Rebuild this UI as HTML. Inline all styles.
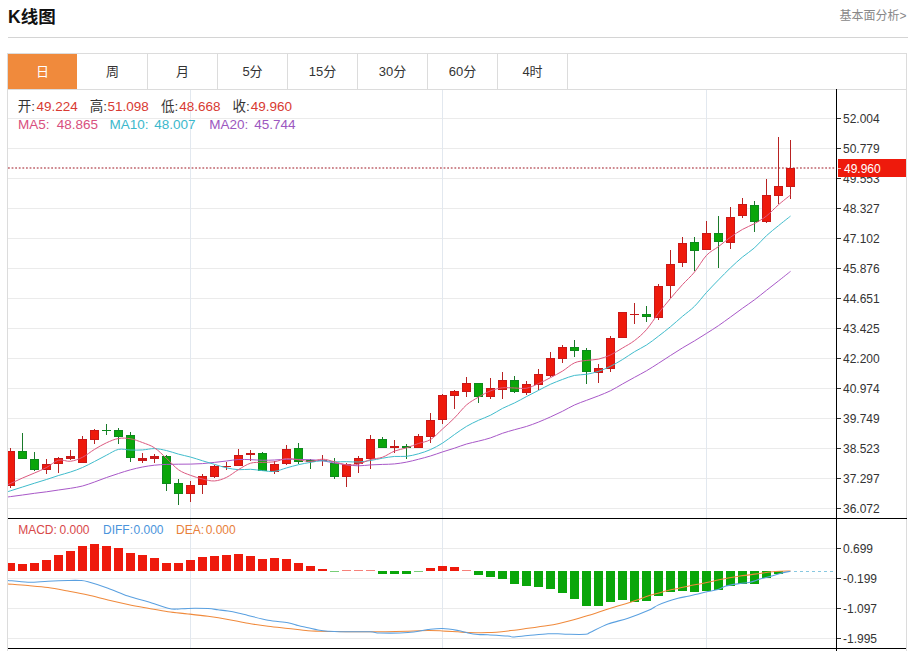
<!DOCTYPE html>
<html><head><meta charset="utf-8"><title>K线图</title><style>
html,body{margin:0;padding:0;background:#fff;}
body{width:911px;height:651px;position:relative;overflow:hidden;}
svg{position:absolute;left:0;top:0;font-family:"Liberation Sans","Noto Sans CJK SC",sans-serif;}
</style></head><body>
<svg width="911" height="651" viewBox="0 0 911 651" shape-rendering="crispEdges">
<defs><clipPath id="cl"><rect x="8" y="90" width="828" height="428"/></clipPath></defs><g><rect x="8" y="37" width="900" height="1" fill="#d4d4d4"/><rect x="7" y="53" width="900" height="1" fill="#dcdcdc"/><rect x="7" y="53" width="1" height="598" fill="#dcdcdc"/><rect x="906" y="53" width="1" height="598" fill="#dcdcdc"/><rect x="8" y="54" width="69" height="35" fill="#f08a3c"/><rect x="147" y="54" width="1" height="35" fill="#dcdcdc"/><rect x="217" y="54" width="1" height="35" fill="#dcdcdc"/><rect x="287" y="54" width="1" height="35" fill="#dcdcdc"/><rect x="357" y="54" width="1" height="35" fill="#dcdcdc"/><rect x="427" y="54" width="1" height="35" fill="#dcdcdc"/><rect x="497" y="54" width="1" height="35" fill="#dcdcdc"/><rect x="567" y="54" width="1" height="35" fill="#dcdcdc"/><rect x="8" y="89" width="898" height="1" fill="#dcdcdc"/><rect x="8" y="118" width="828" height="1" fill="#ebebeb"/><rect x="8" y="148" width="828" height="1" fill="#ebebeb"/><rect x="8" y="178" width="828" height="1" fill="#ebebeb"/><rect x="8" y="208" width="828" height="1" fill="#ebebeb"/><rect x="8" y="238" width="828" height="1" fill="#ebebeb"/><rect x="8" y="268" width="828" height="1" fill="#ebebeb"/><rect x="8" y="298" width="828" height="1" fill="#ebebeb"/><rect x="8" y="328" width="828" height="1" fill="#ebebeb"/><rect x="8" y="358" width="828" height="1" fill="#ebebeb"/><rect x="8" y="388" width="828" height="1" fill="#ebebeb"/><rect x="8" y="418" width="828" height="1" fill="#ebebeb"/><rect x="8" y="448" width="828" height="1" fill="#ebebeb"/><rect x="8" y="478" width="828" height="1" fill="#ebebeb"/><rect x="8" y="508" width="828" height="1" fill="#ebebeb"/><rect x="8" y="548" width="828" height="1" fill="#ebebeb"/><rect x="8" y="578" width="828" height="1" fill="#ebebeb"/><rect x="8" y="608" width="828" height="1" fill="#ebebeb"/><rect x="8" y="638" width="828" height="1" fill="#ebebeb"/><rect x="190" y="90" width="1" height="558" fill="#e2e8ef"/><rect x="442" y="90" width="1" height="558" fill="#e2e8ef"/><rect x="706" y="90" width="1" height="558" fill="#e2e8ef"/><line x1="8" y1="168" x2="836" y2="168" stroke="#c0666e" stroke-width="1.7" stroke-dasharray="1.8 1.8" shape-rendering="auto"/><rect x="10" y="448.4" width="1" height="39.4" fill="#b82222"/><rect x="8" y="451.0" width="7" height="35.0" fill="#c81818"/><rect x="8" y="452.0" width="6" height="33.0" fill="#ee1a0c"/><rect x="22" y="433.1" width="1" height="25.6" fill="#1a7a2a"/><rect x="18" y="451.1" width="9" height="7.6" fill="#0c8a1c"/><rect x="19" y="452.1" width="7" height="5.6" fill="#0aa60a"/><rect x="34" y="452.1" width="1" height="19.1" fill="#1a7a2a"/><rect x="30" y="459.1" width="9" height="10.4" fill="#0c8a1c"/><rect x="31" y="460.1" width="7" height="8.4" fill="#0aa60a"/><rect x="46" y="459.4" width="1" height="14.3" fill="#b82222"/><rect x="42" y="464.0" width="9" height="5.8" fill="#c81818"/><rect x="43" y="465.0" width="7" height="3.8" fill="#ee1a0c"/><rect x="58" y="457.0" width="1" height="15.8" fill="#b82222"/><rect x="54" y="458.0" width="9" height="6.0" fill="#c81818"/><rect x="55" y="459.0" width="7" height="4.0" fill="#ee1a0c"/><rect x="70" y="450.2" width="1" height="10.2" fill="#b82222"/><rect x="66" y="456.2" width="9" height="2.8" fill="#c81818"/><rect x="82" y="435.9" width="1" height="26.7" fill="#b82222"/><rect x="78" y="438.7" width="9" height="23.9" fill="#c81818"/><rect x="79" y="439.7" width="7" height="21.9" fill="#ee1a0c"/><rect x="94" y="429.4" width="1" height="14.1" fill="#b82222"/><rect x="90" y="430.0" width="9" height="9.7" fill="#c81818"/><rect x="91" y="431.0" width="7" height="7.7" fill="#ee1a0c"/><rect x="106" y="424.0" width="1" height="11.4" fill="#1a7a2a"/><rect x="102" y="429.6" width="9" height="1.4" fill="#0c8a1c"/><rect x="118" y="428.4" width="1" height="15.5" fill="#1a7a2a"/><rect x="114" y="429.9" width="9" height="6.7" fill="#0c8a1c"/><rect x="115" y="430.9" width="7" height="4.7" fill="#0aa60a"/><rect x="130" y="432.2" width="1" height="29.8" fill="#1a7a2a"/><rect x="126" y="435.4" width="9" height="22.2" fill="#0c8a1c"/><rect x="127" y="436.4" width="7" height="20.2" fill="#0aa60a"/><rect x="142" y="453.2" width="1" height="9.9" fill="#b82222"/><rect x="138" y="457.6" width="9" height="2.9" fill="#c81818"/><rect x="154" y="453.7" width="1" height="9.4" fill="#b82222"/><rect x="150" y="456.3" width="9" height="2.2" fill="#c81818"/><rect x="166" y="455.1" width="1" height="35.5" fill="#1a7a2a"/><rect x="162" y="456.1" width="9" height="27.5" fill="#0c8a1c"/><rect x="163" y="457.1" width="7" height="25.5" fill="#0aa60a"/><rect x="178" y="478.5" width="1" height="26.2" fill="#1a7a2a"/><rect x="174" y="482.8" width="9" height="11.0" fill="#0c8a1c"/><rect x="175" y="483.8" width="7" height="9.0" fill="#0aa60a"/><rect x="190" y="481.4" width="1" height="20.4" fill="#b82222"/><rect x="186" y="485.3" width="9" height="8.5" fill="#c81818"/><rect x="187" y="486.3" width="7" height="6.5" fill="#ee1a0c"/><rect x="202" y="474.1" width="1" height="19.6" fill="#b82222"/><rect x="198" y="475.9" width="9" height="9.5" fill="#c81818"/><rect x="199" y="476.9" width="7" height="7.5" fill="#ee1a0c"/><rect x="214" y="464.5" width="1" height="13.3" fill="#b82222"/><rect x="210" y="466.1" width="9" height="10.7" fill="#c81818"/><rect x="211" y="467.1" width="7" height="8.7" fill="#ee1a0c"/><rect x="226" y="462.4" width="1" height="8.0" fill="#b82222"/><rect x="222" y="465.7" width="9" height="1.3" fill="#c81818"/><rect x="238" y="448.9" width="1" height="17.2" fill="#b82222"/><rect x="234" y="455.0" width="9" height="10.7" fill="#c81818"/><rect x="235" y="456.0" width="7" height="8.7" fill="#ee1a0c"/><rect x="250" y="449.5" width="1" height="11.7" fill="#b82222"/><rect x="246" y="453.4" width="9" height="1.6" fill="#c81818"/><rect x="262" y="451.7" width="1" height="19.7" fill="#1a7a2a"/><rect x="258" y="452.6" width="9" height="18.8" fill="#0c8a1c"/><rect x="259" y="453.6" width="7" height="16.8" fill="#0aa60a"/><rect x="274" y="461.2" width="1" height="12.5" fill="#b82222"/><rect x="270" y="463.6" width="9" height="8.0" fill="#c81818"/><rect x="271" y="464.6" width="7" height="6.0" fill="#ee1a0c"/><rect x="286" y="445.4" width="1" height="19.6" fill="#b82222"/><rect x="282" y="449.1" width="9" height="14.9" fill="#c81818"/><rect x="283" y="450.1" width="7" height="12.9" fill="#ee1a0c"/><rect x="298" y="443.2" width="1" height="20.4" fill="#1a7a2a"/><rect x="294" y="448.2" width="9" height="13.3" fill="#0c8a1c"/><rect x="295" y="449.2" width="7" height="11.3" fill="#0aa60a"/><rect x="310" y="458.7" width="1" height="10.5" fill="#1a7a2a"/><rect x="306" y="460.2" width="9" height="1.8" fill="#0c8a1c"/><rect x="322" y="454.7" width="1" height="11.0" fill="#b82222"/><rect x="318" y="459.6" width="9" height="1.4" fill="#c81818"/><rect x="334" y="457.9" width="1" height="20.9" fill="#1a7a2a"/><rect x="330" y="463.3" width="9" height="13.5" fill="#0c8a1c"/><rect x="331" y="464.3" width="7" height="11.5" fill="#0aa60a"/><rect x="346" y="462.8" width="1" height="23.8" fill="#b82222"/><rect x="342" y="464.2" width="9" height="13.0" fill="#c81818"/><rect x="343" y="465.2" width="7" height="11.0" fill="#ee1a0c"/><rect x="358" y="456.3" width="1" height="16.6" fill="#b82222"/><rect x="354" y="458.1" width="9" height="5.5" fill="#c81818"/><rect x="355" y="459.1" width="7" height="3.5" fill="#ee1a0c"/><rect x="370" y="435.4" width="1" height="33.1" fill="#b82222"/><rect x="366" y="439.0" width="9" height="19.7" fill="#c81818"/><rect x="367" y="440.0" width="7" height="17.7" fill="#ee1a0c"/><rect x="382" y="437.0" width="1" height="11.0" fill="#1a7a2a"/><rect x="378" y="438.7" width="9" height="9.3" fill="#0c8a1c"/><rect x="379" y="439.7" width="7" height="7.3" fill="#0aa60a"/><rect x="394" y="440.3" width="1" height="12.3" fill="#b82222"/><rect x="390" y="446.2" width="9" height="2.0" fill="#c81818"/><rect x="406" y="444.1" width="1" height="14.6" fill="#1a7a2a"/><rect x="402" y="445.7" width="9" height="2.3" fill="#0c8a1c"/><rect x="418" y="434.1" width="1" height="13.9" fill="#b82222"/><rect x="414" y="436.0" width="9" height="12.0" fill="#c81818"/><rect x="415" y="437.0" width="7" height="10.0" fill="#ee1a0c"/><rect x="430" y="413.4" width="1" height="30.0" fill="#b82222"/><rect x="426" y="419.8" width="9" height="17.1" fill="#c81818"/><rect x="427" y="420.8" width="7" height="15.1" fill="#ee1a0c"/><rect x="442" y="393.9" width="1" height="29.8" fill="#b82222"/><rect x="438" y="395.0" width="9" height="24.5" fill="#c81818"/><rect x="439" y="396.0" width="7" height="22.5" fill="#ee1a0c"/><rect x="454" y="389.6" width="1" height="19.2" fill="#b82222"/><rect x="450" y="390.8" width="9" height="4.9" fill="#c81818"/><rect x="451" y="391.8" width="7" height="2.9" fill="#ee1a0c"/><rect x="466" y="376.5" width="1" height="20.5" fill="#b82222"/><rect x="462" y="383.1" width="9" height="9.2" fill="#c81818"/><rect x="463" y="384.1" width="7" height="7.2" fill="#ee1a0c"/><rect x="478" y="382.7" width="1" height="19.9" fill="#1a7a2a"/><rect x="474" y="383.1" width="9" height="13.9" fill="#0c8a1c"/><rect x="475" y="384.1" width="7" height="11.9" fill="#0aa60a"/><rect x="490" y="377.6" width="1" height="21.2" fill="#b82222"/><rect x="486" y="388.4" width="9" height="8.1" fill="#c81818"/><rect x="487" y="389.4" width="7" height="6.1" fill="#ee1a0c"/><rect x="502" y="371.5" width="1" height="27.6" fill="#b82222"/><rect x="498" y="379.5" width="9" height="10.1" fill="#c81818"/><rect x="499" y="380.5" width="7" height="8.1" fill="#ee1a0c"/><rect x="514" y="376.1" width="1" height="16.9" fill="#1a7a2a"/><rect x="510" y="380.2" width="9" height="11.7" fill="#0c8a1c"/><rect x="511" y="381.2" width="7" height="9.7" fill="#0aa60a"/><rect x="526" y="381.0" width="1" height="13.5" fill="#b82222"/><rect x="522" y="384.1" width="9" height="8.9" fill="#c81818"/><rect x="523" y="385.1" width="7" height="6.9" fill="#ee1a0c"/><rect x="538" y="369.2" width="1" height="21.0" fill="#b82222"/><rect x="534" y="374.2" width="9" height="10.8" fill="#c81818"/><rect x="535" y="375.2" width="7" height="8.8" fill="#ee1a0c"/><rect x="550" y="352.3" width="1" height="24.6" fill="#b82222"/><rect x="546" y="358.4" width="9" height="17.4" fill="#c81818"/><rect x="547" y="359.4" width="7" height="15.4" fill="#ee1a0c"/><rect x="562" y="345.4" width="1" height="17.6" fill="#b82222"/><rect x="558" y="346.9" width="9" height="11.8" fill="#c81818"/><rect x="559" y="347.9" width="7" height="9.8" fill="#ee1a0c"/><rect x="574" y="339.5" width="1" height="17.8" fill="#1a7a2a"/><rect x="570" y="347.2" width="9" height="3.5" fill="#0c8a1c"/><rect x="571" y="348.2" width="7" height="1.5" fill="#0aa60a"/><rect x="586" y="348.1" width="1" height="36.0" fill="#1a7a2a"/><rect x="582" y="350.0" width="9" height="21.8" fill="#0c8a1c"/><rect x="583" y="351.0" width="7" height="19.8" fill="#0aa60a"/><rect x="598" y="363.8" width="1" height="19.0" fill="#b82222"/><rect x="594" y="367.8" width="9" height="5.0" fill="#c81818"/><rect x="595" y="368.8" width="7" height="3.0" fill="#ee1a0c"/><rect x="610" y="335.9" width="1" height="35.9" fill="#b82222"/><rect x="606" y="337.5" width="9" height="31.3" fill="#c81818"/><rect x="607" y="338.5" width="7" height="29.3" fill="#ee1a0c"/><rect x="622" y="311.5" width="1" height="26.4" fill="#b82222"/><rect x="618" y="312.3" width="9" height="25.6" fill="#c81818"/><rect x="619" y="313.3" width="7" height="23.6" fill="#ee1a0c"/><rect x="634" y="302.9" width="1" height="20.6" fill="#b82222"/><rect x="630" y="313.5" width="9" height="1.6" fill="#c81818"/><rect x="646" y="306.3" width="1" height="15.6" fill="#1a7a2a"/><rect x="642" y="313.5" width="9" height="3.4" fill="#0c8a1c"/><rect x="643" y="314.5" width="7" height="1.4" fill="#0aa60a"/><rect x="658" y="284.2" width="1" height="35.7" fill="#b82222"/><rect x="654" y="285.8" width="9" height="32.1" fill="#c81818"/><rect x="655" y="286.8" width="7" height="30.1" fill="#ee1a0c"/><rect x="670" y="249.7" width="1" height="47.9" fill="#b82222"/><rect x="666" y="263.8" width="9" height="22.6" fill="#c81818"/><rect x="667" y="264.8" width="7" height="20.6" fill="#ee1a0c"/><rect x="682" y="236.5" width="1" height="30.3" fill="#b82222"/><rect x="678" y="243.1" width="9" height="20.0" fill="#c81818"/><rect x="679" y="244.1" width="7" height="18.0" fill="#ee1a0c"/><rect x="694" y="237.1" width="1" height="33.4" fill="#1a7a2a"/><rect x="690" y="242.4" width="9" height="8.3" fill="#0c8a1c"/><rect x="691" y="243.4" width="7" height="6.3" fill="#0aa60a"/><rect x="706" y="220.5" width="1" height="29.1" fill="#b82222"/><rect x="702" y="233.2" width="9" height="16.4" fill="#c81818"/><rect x="703" y="234.2" width="7" height="14.4" fill="#ee1a0c"/><rect x="718" y="215.5" width="1" height="52.3" fill="#1a7a2a"/><rect x="714" y="233.2" width="9" height="8.9" fill="#0c8a1c"/><rect x="715" y="234.2" width="7" height="6.9" fill="#0aa60a"/><rect x="730" y="207.4" width="1" height="41.8" fill="#b82222"/><rect x="726" y="216.8" width="9" height="25.7" fill="#c81818"/><rect x="727" y="217.8" width="7" height="23.7" fill="#ee1a0c"/><rect x="742" y="197.5" width="1" height="20.0" fill="#b82222"/><rect x="738" y="204.2" width="9" height="11.3" fill="#c81818"/><rect x="739" y="205.2" width="7" height="9.3" fill="#ee1a0c"/><rect x="754" y="200.7" width="1" height="31.7" fill="#1a7a2a"/><rect x="750" y="204.8" width="9" height="16.8" fill="#0c8a1c"/><rect x="751" y="205.8" width="7" height="14.8" fill="#0aa60a"/><rect x="766" y="178.8" width="1" height="44.0" fill="#b82222"/><rect x="762" y="195.2" width="9" height="26.5" fill="#c81818"/><rect x="763" y="196.2" width="7" height="24.5" fill="#ee1a0c"/><rect x="778" y="137.2" width="1" height="66.4" fill="#b82222"/><rect x="774" y="185.9" width="9" height="9.8" fill="#c81818"/><rect x="775" y="186.9" width="7" height="7.8" fill="#ee1a0c"/><rect x="790" y="139.9" width="1" height="59.5" fill="#b82222"/><rect x="786" y="168.1" width="9" height="18.6" fill="#c81818"/><rect x="787" y="169.1" width="7" height="16.6" fill="#ee1a0c"/><g clip-path="url(#cl)"><path d="M-1.50,498.20 C0.50,497.93 6.50,497.13 10.50,496.60 C14.50,496.07 18.50,495.55 22.50,495.00 C26.50,494.45 30.50,493.83 34.50,493.30 C38.50,492.77 42.50,492.35 46.50,491.80 C50.50,491.25 54.50,490.58 58.50,490.00 C62.50,489.42 66.50,488.97 70.50,488.30 C74.50,487.63 78.50,487.05 82.50,486.00 C86.50,484.95 90.50,483.42 94.50,482.00 C98.50,480.58 102.50,478.92 106.50,477.50 C110.50,476.08 114.50,474.78 118.50,473.50 C122.50,472.22 126.50,470.88 130.50,469.80 C134.50,468.72 138.50,467.77 142.50,467.00 C146.50,466.23 150.50,465.63 154.50,465.20 C158.50,464.77 162.50,464.57 166.50,464.40 C170.50,464.23 174.50,464.25 178.50,464.20 C182.50,464.15 186.50,464.20 190.50,464.10 C194.50,464.00 198.50,463.88 202.50,463.60 C206.50,463.32 210.50,462.83 214.50,462.40 C218.50,461.97 222.50,461.48 226.50,461.00 C230.50,460.52 234.50,459.76 238.50,459.53 C242.50,459.31 246.50,459.52 250.50,459.65 C254.50,459.78 258.50,460.23 262.50,460.29 C266.50,460.34 270.50,460.16 274.50,459.99 C278.50,459.82 282.50,459.34 286.50,459.25 C290.50,459.15 294.50,459.34 298.50,459.42 C302.50,459.50 306.50,459.49 310.50,459.71 C314.50,459.93 318.50,460.19 322.50,460.75 C326.50,461.32 330.50,462.43 334.50,463.09 C338.50,463.76 342.50,464.30 346.50,464.75 C350.50,465.21 354.50,465.81 358.50,465.83 C362.50,465.85 366.50,465.13 370.50,464.90 C374.50,464.66 378.50,464.58 382.50,464.42 C386.50,464.26 390.50,464.30 394.50,463.92 C398.50,463.53 402.50,462.91 406.50,462.13 C410.50,461.36 414.50,460.27 418.50,459.25 C422.50,458.22 426.50,457.19 430.50,455.97 C434.50,454.75 438.50,453.23 442.50,451.93 C446.50,450.62 450.50,449.48 454.50,448.16 C458.50,446.84 462.50,445.20 466.50,444.03 C470.50,442.86 474.50,442.15 478.50,441.13 C482.50,440.11 486.50,439.19 490.50,437.88 C494.50,436.57 498.50,434.65 502.50,433.28 C506.50,431.92 510.50,430.84 514.50,429.70 C518.50,428.56 522.50,427.72 526.50,426.45 C530.50,425.18 534.50,423.68 538.50,422.08 C542.50,420.49 546.50,418.71 550.50,416.91 C554.50,415.10 558.50,413.26 562.50,411.27 C566.50,409.28 570.50,406.79 574.50,404.97 C578.50,403.14 582.50,401.87 586.50,400.34 C590.50,398.82 594.50,397.43 598.50,395.83 C602.50,394.23 606.50,392.73 610.50,390.75 C614.50,388.78 618.50,386.21 622.50,383.97 C626.50,381.73 630.50,379.53 634.50,377.33 C638.50,375.14 642.50,373.12 646.50,370.78 C650.50,368.44 654.50,365.82 658.50,363.27 C662.50,360.72 666.50,358.04 670.50,355.47 C674.50,352.90 678.50,350.31 682.50,347.88 C686.50,345.44 690.50,343.29 694.50,340.87 C698.50,338.45 702.50,335.92 706.50,333.38 C710.50,330.83 714.50,328.35 718.50,325.63 C722.50,322.91 726.50,319.94 730.50,317.05 C734.50,314.16 738.50,311.16 742.50,308.28 C746.50,305.40 750.50,302.76 754.50,299.77 C758.50,296.78 762.50,293.47 766.50,290.32 C770.50,287.18 774.50,284.06 778.50,280.91 C782.50,277.75 788.50,272.98 790.50,271.39" fill="none" stroke="#a858c8" stroke-width="1.0" stroke-linejoin="round" shape-rendering="auto"/><path d="M-1.50,494.60 C0.50,493.97 6.50,492.07 10.50,490.80 C14.50,489.53 18.50,488.27 22.50,487.00 C26.50,485.73 30.50,484.45 34.50,483.20 C38.50,481.95 42.50,480.78 46.50,479.50 C50.50,478.22 54.50,476.75 58.50,475.50 C62.50,474.25 66.50,473.33 70.50,472.00 C74.50,470.67 78.50,469.25 82.50,467.50 C86.50,465.75 90.50,463.55 94.50,461.50 C98.50,459.45 102.50,457.22 106.50,455.20 C110.50,453.18 114.50,450.23 118.50,449.37 C122.50,448.51 126.50,449.94 130.50,450.03 C134.50,450.12 138.50,450.16 142.50,449.92 C146.50,449.68 150.50,448.49 154.50,448.60 C158.50,448.71 162.50,449.64 166.50,450.56 C170.50,451.48 174.50,453.06 178.50,454.14 C182.50,455.22 186.50,455.95 190.50,457.05 C194.50,458.15 198.50,459.55 202.50,460.77 C206.50,461.99 210.50,463.20 214.50,464.38 C218.50,465.56 222.50,466.97 226.50,467.85 C230.50,468.74 234.50,469.45 238.50,469.69 C242.50,469.93 246.50,469.11 250.50,469.27 C254.50,469.43 258.50,470.30 262.50,470.65 C266.50,471.00 270.50,471.83 274.50,471.38 C278.50,470.93 282.50,469.04 286.50,467.93 C290.50,466.82 294.50,465.63 298.50,464.70 C302.50,463.77 306.50,463.03 310.50,462.37 C314.50,461.71 318.50,460.83 322.50,460.74 C326.50,460.65 330.50,461.66 334.50,461.81 C338.50,461.96 342.50,461.63 346.50,461.66 C350.50,461.69 354.50,462.16 358.50,461.97 C362.50,461.78 366.50,461.16 370.50,460.53 C374.50,459.90 378.50,458.87 382.50,458.19 C386.50,457.51 390.50,456.76 394.50,456.45 C398.50,456.14 402.50,456.78 406.50,456.34 C410.50,455.90 414.50,454.92 418.50,453.79 C422.50,452.66 426.50,451.35 430.50,449.57 C434.50,447.79 438.50,445.62 442.50,443.11 C446.50,440.60 450.50,437.30 454.50,434.51 C458.50,431.73 462.50,428.77 466.50,426.40 C470.50,424.03 474.50,422.15 478.50,420.29 C482.50,418.43 486.50,417.22 490.50,415.23 C494.50,413.25 498.50,410.43 502.50,408.38 C506.50,406.33 510.50,404.92 514.50,402.95 C518.50,400.98 522.50,398.65 526.50,396.56 C530.50,394.47 534.50,392.43 538.50,390.38 C542.50,388.33 546.50,386.06 550.50,384.24 C554.50,382.42 558.50,380.90 562.50,379.43 C566.50,377.96 570.50,376.28 574.50,375.42 C578.50,374.56 582.50,374.97 586.50,374.29 C590.50,373.62 594.50,372.70 598.50,371.37 C602.50,370.04 606.50,368.25 610.50,366.28 C614.50,364.31 618.50,361.99 622.50,359.56 C626.50,357.13 630.50,354.15 634.50,351.72 C638.50,349.29 642.50,347.59 646.50,345.00 C650.50,342.41 654.50,339.21 658.50,336.16 C662.50,333.11 666.50,330.01 670.50,326.70 C674.50,323.39 678.50,319.72 682.50,316.32 C686.50,312.92 690.50,310.30 694.50,306.32 C698.50,302.34 702.50,296.87 706.50,292.46 C710.50,288.05 714.50,284.00 718.50,279.89 C722.50,275.78 726.50,271.63 730.50,267.82 C734.50,264.01 738.50,260.34 742.50,257.01 C746.50,253.68 750.50,251.38 754.50,247.82 C758.50,244.26 762.50,239.34 766.50,235.65 C770.50,231.96 774.50,228.92 778.50,225.66 C782.50,222.40 788.50,217.69 790.50,216.09" fill="none" stroke="#40bccc" stroke-width="1.0" stroke-linejoin="round" shape-rendering="auto"/><path d="M-1.50,489.00 C0.50,488.08 6.50,485.33 10.50,483.50 C14.50,481.67 18.50,479.75 22.50,478.00 C26.50,476.25 30.50,474.75 34.50,473.00 C38.50,471.25 42.50,469.63 46.50,467.50 C50.50,465.37 54.50,461.28 58.50,460.24 C62.50,459.20 66.50,461.77 70.50,461.28 C74.50,460.79 78.50,459.26 82.50,457.28 C86.50,455.30 90.50,451.80 94.50,449.38 C98.50,446.96 102.50,444.59 106.50,442.78 C110.50,440.97 114.50,439.17 118.50,438.50 C122.50,437.83 126.50,438.10 130.50,438.78 C134.50,439.46 138.50,441.05 142.50,442.56 C146.50,444.07 150.50,445.19 154.50,447.82 C158.50,450.45 162.50,454.68 166.50,458.34 C170.50,462.00 174.50,466.95 178.50,469.78 C182.50,472.61 186.50,473.79 190.50,475.32 C194.50,476.85 198.50,478.04 202.50,478.98 C206.50,479.92 210.50,481.21 214.50,480.94 C218.50,480.67 222.50,479.25 226.50,477.36 C230.50,475.47 234.50,471.96 238.50,469.60 C242.50,467.24 246.50,464.43 250.50,463.22 C254.50,462.01 258.50,462.55 262.50,462.32 C266.50,462.09 270.50,462.46 274.50,461.82 C278.50,461.18 282.50,458.84 286.50,458.50 C290.50,458.16 294.50,459.30 298.50,459.80 C302.50,460.30 306.50,461.63 310.50,461.52 C314.50,461.41 318.50,459.11 322.50,459.16 C326.50,459.21 330.50,460.86 334.50,461.80 C338.50,462.74 342.50,464.43 346.50,464.82 C350.50,465.21 354.50,465.02 358.50,464.14 C362.50,463.26 366.50,460.69 370.50,459.54 C374.50,458.39 378.50,458.63 382.50,457.22 C386.50,455.81 390.50,452.66 394.50,451.10 C398.50,449.54 402.50,449.14 406.50,447.86 C410.50,446.58 414.50,444.82 418.50,443.44 C422.50,442.06 426.50,442.01 430.50,439.60 C434.50,437.19 438.50,432.61 442.50,429.00 C446.50,425.39 450.50,421.93 454.50,417.92 C458.50,413.91 462.50,408.40 466.50,404.94 C470.50,401.48 474.50,399.49 478.50,397.14 C482.50,394.79 486.50,392.42 490.50,390.86 C494.50,389.30 498.50,388.24 502.50,387.76 C506.50,387.28 510.50,387.91 514.50,387.98 C518.50,388.05 522.50,388.91 526.50,388.18 C530.50,387.45 534.50,385.38 538.50,383.62 C542.50,381.86 546.50,379.71 550.50,377.62 C554.50,375.53 558.50,373.56 562.50,371.10 C566.50,368.64 570.50,364.64 574.50,362.86 C578.50,361.08 582.50,361.02 586.50,360.40 C590.50,359.78 594.50,360.03 598.50,359.12 C602.50,358.21 606.50,356.79 610.50,354.94 C614.50,353.09 618.50,350.41 622.50,348.02 C626.50,345.63 630.50,343.65 634.50,340.58 C638.50,337.51 642.50,334.16 646.50,329.60 C650.50,325.04 654.50,318.39 658.50,313.20 C662.50,308.01 666.50,303.22 670.50,298.46 C674.50,293.70 678.50,289.02 682.50,284.62 C686.50,280.22 690.50,276.94 694.50,272.06 C698.50,267.18 702.50,259.57 706.50,255.32 C710.50,251.07 714.50,249.60 718.50,246.58 C722.50,243.56 726.50,240.04 730.50,237.18 C734.50,234.32 738.50,231.67 742.50,229.40 C746.50,227.13 750.50,225.82 754.50,223.58 C758.50,221.34 762.50,219.12 766.50,215.98 C770.50,212.84 774.50,208.24 778.50,204.74 C782.50,201.24 788.50,196.62 790.50,195.00" fill="none" stroke="#dc5a80" stroke-width="1.0" stroke-linejoin="round" shape-rendering="auto"/></g><rect x="8" y="563.3" width="7" height="7.9" fill="#ee1a0c"/><rect x="18" y="564.1" width="9" height="7.1" fill="#ee1a0c"/><rect x="30" y="563.3" width="9" height="7.9" fill="#ee1a0c"/><rect x="42" y="559.7" width="9" height="11.5" fill="#ee1a0c"/><rect x="54" y="555.3" width="9" height="15.9" fill="#ee1a0c"/><rect x="66" y="551.2" width="9" height="20.0" fill="#ee1a0c"/><rect x="78" y="546.1" width="9" height="25.1" fill="#ee1a0c"/><rect x="90" y="544.2" width="9" height="27.0" fill="#ee1a0c"/><rect x="102" y="545.6" width="9" height="25.6" fill="#ee1a0c"/><rect x="114" y="548.4" width="9" height="22.8" fill="#ee1a0c"/><rect x="126" y="553.2" width="9" height="18.0" fill="#ee1a0c"/><rect x="138" y="555.0" width="9" height="16.2" fill="#ee1a0c"/><rect x="150" y="558.0" width="9" height="13.2" fill="#ee1a0c"/><rect x="162" y="562.9" width="9" height="8.3" fill="#ee1a0c"/><rect x="174" y="563.3" width="9" height="7.9" fill="#ee1a0c"/><rect x="186" y="560.3" width="9" height="10.9" fill="#ee1a0c"/><rect x="198" y="557.4" width="9" height="13.8" fill="#ee1a0c"/><rect x="210" y="555.5" width="9" height="15.7" fill="#ee1a0c"/><rect x="222" y="555.0" width="9" height="16.2" fill="#ee1a0c"/><rect x="234" y="554.1" width="9" height="17.1" fill="#ee1a0c"/><rect x="246" y="555.8" width="9" height="15.4" fill="#ee1a0c"/><rect x="258" y="558.8" width="9" height="12.4" fill="#ee1a0c"/><rect x="270" y="558.0" width="9" height="13.2" fill="#ee1a0c"/><rect x="282" y="558.8" width="9" height="12.4" fill="#ee1a0c"/><rect x="294" y="563.3" width="9" height="7.9" fill="#ee1a0c"/><rect x="306" y="565.9" width="9" height="5.3" fill="#ee1a0c"/><rect x="318" y="568.9" width="9" height="2.3" fill="#ee1a0c"/><rect x="330" y="571.2" width="9" height="1.0" fill="#0aa60a" fill-opacity="0.55"/><rect x="342" y="570.2" width="9" height="1.0" fill="#ee1a0c" fill-opacity="0.55"/><rect x="354" y="570.2" width="9" height="1.0" fill="#ee1a0c" fill-opacity="0.55"/><rect x="366" y="570.2" width="9" height="1.0" fill="#ee1a0c" fill-opacity="0.55"/><rect x="378" y="571.2" width="9" height="2.5" fill="#0aa60a"/><rect x="390" y="571.2" width="9" height="3.2" fill="#0aa60a"/><rect x="402" y="571.2" width="9" height="2.5" fill="#0aa60a"/><rect x="414" y="571.2" width="9" height="1.0" fill="#0aa60a" fill-opacity="0.55"/><rect x="426" y="568.1" width="9" height="3.1" fill="#ee1a0c"/><rect x="438" y="565.5" width="9" height="5.7" fill="#ee1a0c"/><rect x="450" y="567.4" width="9" height="3.8" fill="#ee1a0c"/><rect x="462" y="569.9" width="9" height="1.3" fill="#ee1a0c" fill-opacity="0.55"/><rect x="474" y="571.2" width="9" height="3.5" fill="#0aa60a"/><rect x="486" y="571.2" width="9" height="5.4" fill="#0aa60a"/><rect x="498" y="571.2" width="9" height="7.9" fill="#0aa60a"/><rect x="510" y="571.2" width="9" height="12.7" fill="#0aa60a"/><rect x="522" y="571.2" width="9" height="14.4" fill="#0aa60a"/><rect x="534" y="571.2" width="9" height="15.6" fill="#0aa60a"/><rect x="546" y="571.2" width="9" height="17.4" fill="#0aa60a"/><rect x="558" y="571.2" width="9" height="21.7" fill="#0aa60a"/><rect x="570" y="571.2" width="9" height="28.2" fill="#0aa60a"/><rect x="582" y="571.2" width="9" height="34.5" fill="#0aa60a"/><rect x="594" y="571.2" width="9" height="34.3" fill="#0aa60a"/><rect x="606" y="571.2" width="9" height="30.4" fill="#0aa60a"/><rect x="618" y="571.2" width="9" height="29.2" fill="#0aa60a"/><rect x="630" y="571.2" width="9" height="30.6" fill="#0aa60a"/><rect x="642" y="571.2" width="9" height="29.8" fill="#0aa60a"/><rect x="654" y="571.2" width="9" height="24.3" fill="#0aa60a"/><rect x="666" y="571.2" width="9" height="20.6" fill="#0aa60a"/><rect x="678" y="571.2" width="9" height="19.6" fill="#0aa60a"/><rect x="690" y="571.2" width="9" height="20.6" fill="#0aa60a"/><rect x="702" y="571.2" width="9" height="19.3" fill="#0aa60a"/><rect x="714" y="571.2" width="9" height="18.9" fill="#0aa60a"/><rect x="726" y="571.2" width="9" height="14.5" fill="#0aa60a"/><rect x="738" y="571.2" width="9" height="12.6" fill="#0aa60a"/><rect x="750" y="571.2" width="9" height="12.6" fill="#0aa60a"/><rect x="762" y="571.2" width="9" height="6.6" fill="#0aa60a"/><rect x="774" y="571.2" width="9" height="3.1" fill="#0aa60a"/><path d="M8.00,584.00 C11.33,584.27 21.33,585.00 28.00,585.60 C34.67,586.20 41.33,586.68 48.00,587.60 C54.67,588.52 61.33,589.87 68.00,591.10 C74.67,592.33 81.33,593.52 88.00,595.00 C94.67,596.48 101.33,598.43 108.00,600.00 C114.67,601.57 121.33,603.03 128.00,604.40 C134.67,605.77 141.33,606.97 148.00,608.20 C154.67,609.43 161.33,610.85 168.00,611.80 C174.67,612.75 181.33,613.15 188.00,613.90 C194.67,614.65 201.33,615.38 208.00,616.30 C214.67,617.22 221.33,618.23 228.00,619.40 C234.67,620.57 241.33,622.15 248.00,623.30 C254.67,624.45 261.33,625.43 268.00,626.30 C274.67,627.17 281.33,627.77 288.00,628.50 C294.67,629.23 303.00,630.25 308.00,630.70 C313.00,631.15 314.67,631.08 318.00,631.20 C321.33,631.32 319.33,631.30 328.00,631.40 C336.67,631.50 356.67,631.83 370.00,631.80 C383.33,631.77 398.33,631.42 408.00,631.20 C417.67,630.98 422.25,630.55 428.00,630.50 C433.75,630.45 437.50,630.68 442.50,630.90 C447.50,631.12 453.75,631.53 458.00,631.80 C462.25,632.07 463.00,632.37 468.00,632.50 C473.00,632.63 481.33,632.87 488.00,632.60 C494.67,632.33 501.33,631.62 508.00,630.90 C514.67,630.18 521.33,629.20 528.00,628.30 C534.67,627.40 543.00,626.27 548.00,625.50 C553.00,624.73 554.67,624.40 558.00,623.70 C561.33,623.00 563.00,622.65 568.00,621.30 C573.00,619.95 581.33,617.65 588.00,615.60 C594.67,613.55 601.33,611.12 608.00,609.00 C614.67,606.88 623.00,604.43 628.00,602.90 C633.00,601.37 634.67,600.93 638.00,599.80 C641.33,598.67 644.67,597.18 648.00,596.10 C651.33,595.02 654.67,594.22 658.00,593.30 C661.33,592.38 664.67,591.42 668.00,590.60 C671.33,589.78 674.67,589.13 678.00,588.40 C681.33,587.67 684.67,586.90 688.00,586.20 C691.33,585.50 694.67,584.85 698.00,584.20 C701.33,583.55 704.67,582.98 708.00,582.30 C711.33,581.62 714.67,580.82 718.00,580.10 C721.33,579.38 724.33,578.68 728.00,578.00 C731.67,577.32 734.67,576.77 740.00,576.00 C745.33,575.23 755.00,574.05 760.00,573.40 C765.00,572.75 766.67,572.47 770.00,572.10 C773.33,571.73 776.58,571.40 780.00,571.20 C783.42,571.00 788.75,570.95 790.50,570.90" fill="none" stroke="#f08a3c" stroke-width="1.05" stroke-linejoin="round" shape-rendering="auto"/><path d="M8.00,580.40 C11.33,580.72 21.33,582.17 28.00,582.30 C34.67,582.43 41.33,581.50 48.00,581.20 C54.67,580.90 62.67,580.62 68.00,580.50 C73.33,580.38 76.67,580.28 80.00,580.50 C83.33,580.72 83.33,580.52 88.00,581.80 C92.67,583.08 101.33,585.82 108.00,588.20 C114.67,590.58 121.33,593.83 128.00,596.10 C134.67,598.37 141.33,599.78 148.00,601.80 C154.67,603.82 163.20,606.98 168.00,608.20 C172.80,609.42 173.47,609.07 176.80,609.10 C180.13,609.13 182.80,608.48 188.00,608.40 C193.20,608.32 203.00,608.37 208.00,608.60 C213.00,608.83 214.67,609.38 218.00,609.80 C221.33,610.22 224.67,610.57 228.00,611.10 C231.33,611.63 234.67,612.28 238.00,613.00 C241.33,613.72 243.00,614.20 248.00,615.40 C253.00,616.60 261.33,618.98 268.00,620.20 C274.67,621.42 283.00,621.82 288.00,622.70 C293.00,623.58 294.67,624.67 298.00,625.50 C301.33,626.33 304.67,626.97 308.00,627.70 C311.33,628.43 314.67,629.32 318.00,629.90 C321.33,630.48 324.33,630.88 328.00,631.20 C331.67,631.52 333.00,631.70 340.00,631.80 C347.00,631.90 363.33,631.60 370.00,631.80 C376.67,632.00 373.67,632.87 380.00,633.00 C386.33,633.13 400.00,633.17 408.00,632.60 C416.00,632.03 422.25,630.28 428.00,629.60 C433.75,628.92 437.50,628.35 442.50,628.50 C447.50,628.65 453.75,629.77 458.00,630.50 C462.25,631.23 464.67,632.25 468.00,632.90 C471.33,633.55 474.67,634.08 478.00,634.40 C481.33,634.72 483.00,634.53 488.00,634.80 C493.00,635.07 503.83,635.63 508.00,636.00 C512.17,636.37 509.67,637.07 513.00,637.00 C516.33,636.93 522.17,636.13 528.00,635.60 C533.83,635.07 543.00,634.10 548.00,633.80 C553.00,633.50 554.67,633.72 558.00,633.80 C561.33,633.88 563.40,634.22 568.00,634.30 C572.60,634.38 581.93,634.60 585.60,634.30 C589.27,634.00 586.27,634.22 590.00,632.50 C593.73,630.78 601.67,626.37 608.00,624.00 C614.33,621.63 621.33,620.53 628.00,618.30 C634.67,616.07 643.00,612.80 648.00,610.60 C653.00,608.40 654.67,606.67 658.00,605.10 C661.33,603.53 664.67,602.33 668.00,601.20 C671.33,600.07 674.67,599.13 678.00,598.30 C681.33,597.47 684.67,596.90 688.00,596.20 C691.33,595.50 694.67,594.88 698.00,594.10 C701.33,593.32 704.67,592.25 708.00,591.50 C711.33,590.75 715.00,590.52 718.00,589.60 C721.00,588.68 722.33,587.02 726.00,586.00 C729.67,584.98 736.00,584.13 740.00,583.50 C744.00,582.87 746.67,582.93 750.00,582.20 C753.33,581.47 756.67,580.05 760.00,579.10 C763.33,578.15 766.67,577.45 770.00,576.50 C773.33,575.55 776.58,574.28 780.00,573.40 C783.42,572.52 788.75,571.57 790.50,571.20" fill="none" stroke="#5aa0e0" stroke-width="1.05" stroke-linejoin="round" shape-rendering="auto"/><line x1="794" y1="571.5" x2="836" y2="571.5" stroke="#88c8e0" stroke-width="1" stroke-dasharray="3 3"/><rect x="8" y="518" width="899" height="1" fill="#000"/><rect x="8" y="648" width="898" height="1" fill="#000"/><rect x="836" y="89" width="1" height="562" fill="#000"/><rect x="837" y="118" width="4" height="1" fill="#333"/><rect x="837" y="148" width="4" height="1" fill="#333"/><rect x="837" y="178" width="4" height="1" fill="#333"/><rect x="837" y="208" width="4" height="1" fill="#333"/><rect x="837" y="238" width="4" height="1" fill="#333"/><rect x="837" y="268" width="4" height="1" fill="#333"/><rect x="837" y="298" width="4" height="1" fill="#333"/><rect x="837" y="328" width="4" height="1" fill="#333"/><rect x="837" y="358" width="4" height="1" fill="#333"/><rect x="837" y="388" width="4" height="1" fill="#333"/><rect x="837" y="418" width="4" height="1" fill="#333"/><rect x="837" y="448" width="4" height="1" fill="#333"/><rect x="837" y="478" width="4" height="1" fill="#333"/><rect x="837" y="508" width="4" height="1" fill="#333"/><rect x="837" y="548" width="4" height="1" fill="#333"/><rect x="837" y="578" width="4" height="1" fill="#333"/><rect x="837" y="608" width="4" height="1" fill="#333"/><rect x="837" y="638" width="4" height="1" fill="#333"/></g>
<g shape-rendering="auto"><text x="8" y="23" font-size="17.5" fill="#111" font-weight="bold">K线图</text><text x="906.5" y="20.3" font-size="12" fill="#888" text-anchor="end">基本面分析&gt;</text><text x="42.5" y="75.9" font-size="13" fill="#fff" text-anchor="middle">日</text><text x="112.5" y="75.9" font-size="13" fill="#333" text-anchor="middle">周</text><text x="182.5" y="75.9" font-size="13" fill="#333" text-anchor="middle">月</text><text x="252.5" y="75.9" font-size="13" fill="#333" text-anchor="middle">5分</text><text x="322.5" y="75.9" font-size="13" fill="#333" text-anchor="middle">15分</text><text x="392.5" y="75.9" font-size="13" fill="#333" text-anchor="middle">30分</text><text x="462.5" y="75.9" font-size="13" fill="#333" text-anchor="middle">60分</text><text x="532.5" y="75.9" font-size="13" fill="#333" text-anchor="middle">4时</text><text x="17.8" y="110.5" font-size="13.5" fill="#333">开:</text><text x="36.4" y="110.5" font-size="13.5" fill="#d83a32">49.224</text><text x="89.8" y="110.5" font-size="13.5" fill="#333">高:</text><text x="107.5" y="110.5" font-size="13.5" fill="#d83a32">51.098</text><text x="161.0" y="110.5" font-size="13.5" fill="#333">低:</text><text x="179.2" y="110.5" font-size="13.5" fill="#d83a32">48.668</text><text x="232.4" y="110.5" font-size="13.5" fill="#333">收:</text><text x="250.8" y="110.5" font-size="13.5" fill="#d83a32">49.960</text><text x="18.0" y="128.5" font-size="13.5" fill="#d8507e">MA5:</text><text x="56.7" y="128.5" font-size="13.5" fill="#d8507e">48.865</text><text x="109.5" y="128.5" font-size="13.5" fill="#3cb8cc">MA10:</text><text x="154.3" y="128.5" font-size="13.5" fill="#3cb8cc">48.007</text><text x="209.2" y="128.5" font-size="13.5" fill="#9c58c0">MA20:</text><text x="254.3" y="128.5" font-size="13.5" fill="#9c58c0">45.744</text><text x="18.2" y="533.6" font-size="12" fill="#d8484a">MACD:</text><text x="59.5" y="533.6" font-size="12" fill="#d8484a">0.000</text><text x="103.0" y="533.6" font-size="12" fill="#4a94dc">DIFF:</text><text x="133.5" y="533.6" font-size="12" fill="#4a94dc">0.000</text><text x="176.0" y="533.6" font-size="12" fill="#e8803a">DEA:</text><text x="205.7" y="533.6" font-size="12" fill="#e8803a">0.000</text><text x="843" y="122.6" font-size="12" fill="#333">52.004</text><text x="843" y="152.6" font-size="12" fill="#333">50.779</text><text x="843" y="182.6" font-size="12" fill="#333">49.553</text><text x="843" y="212.6" font-size="12" fill="#333">48.327</text><text x="843" y="242.6" font-size="12" fill="#333">47.102</text><text x="843" y="272.6" font-size="12" fill="#333">45.876</text><text x="843" y="302.6" font-size="12" fill="#333">44.651</text><text x="843" y="332.6" font-size="12" fill="#333">43.425</text><text x="843" y="362.6" font-size="12" fill="#333">42.200</text><text x="843" y="392.6" font-size="12" fill="#333">40.974</text><text x="843" y="422.6" font-size="12" fill="#333">39.749</text><text x="843" y="452.6" font-size="12" fill="#333">38.523</text><text x="843" y="482.6" font-size="12" fill="#333">37.297</text><text x="843" y="512.6" font-size="12" fill="#333">36.072</text><text x="843" y="552.6" font-size="12" fill="#333">0.699</text><text x="843" y="582.6" font-size="12" fill="#333">-0.199</text><text x="843" y="612.6" font-size="12" fill="#333">-1.097</text><text x="843" y="642.6" font-size="12" fill="#333">-1.995</text></g><rect x="838" y="159" width="68" height="18" fill="#ee1a0c"/><rect x="838" y="168" width="3" height="1" fill="#f8c0b8"/><text x="844" y="172.6" font-size="12" fill="#fff">49.960</text></svg>
</body></html>
